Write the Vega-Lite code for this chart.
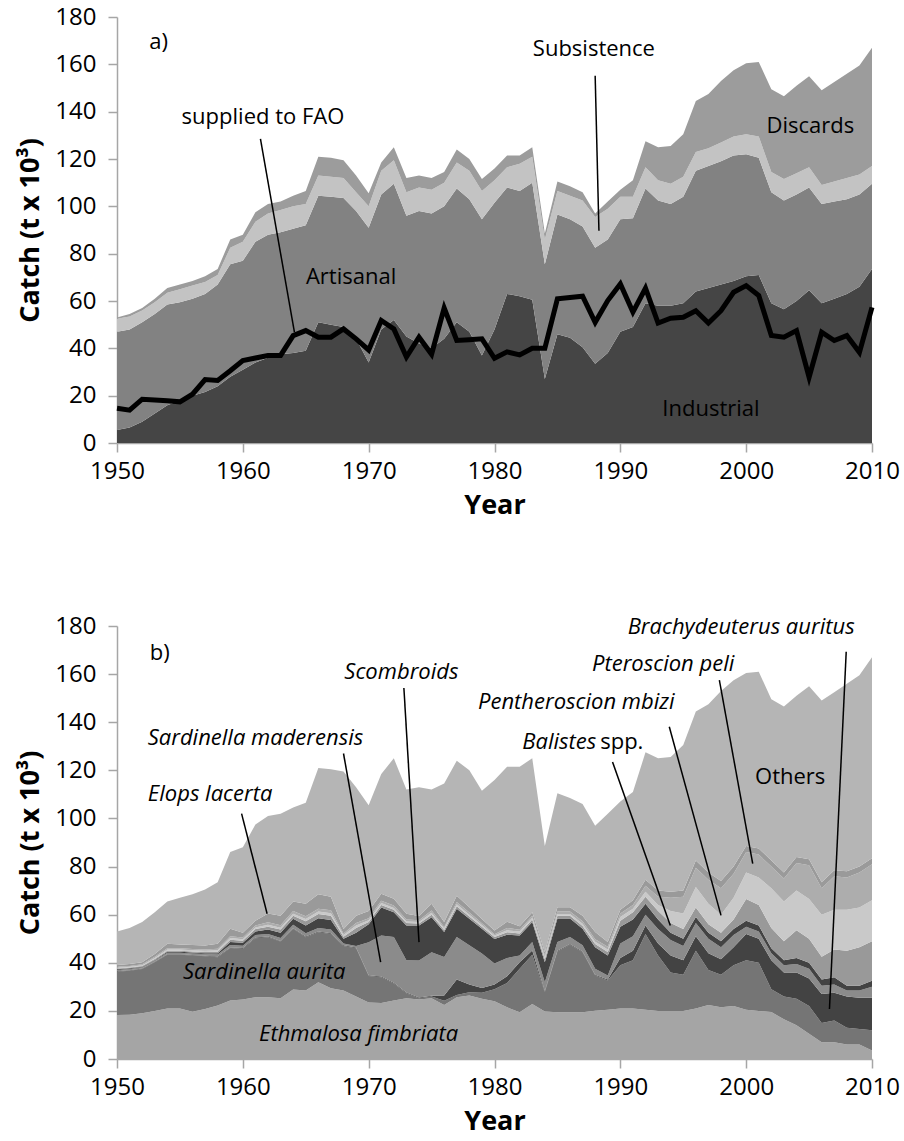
{
  "$schema": "https://vega.github.io/schema/vega-lite/v6.json",
  "padding": {"left": 16, "top": 5, "right": 10, "bottom": 4},
  "spacing": 96,
  "resolve": {"scale": {"color": "independent"}},
  "config": {
    "font": "Open Sans",
    "view": {"stroke": null},
    "axis": {"grid": false, "labelFont": "Open Sans", "titleFont": "Open Sans", "labelFontSize": 24, "titleFontSize": 27, "titleFontWeight": "bold", "labelColor": "#000", "titleColor": "#000", "domainColor": "#a6a6a6", "tickColor": "#a6a6a6", "domainWidth": 1.5, "tickWidth": 1.5, "tickSize": 9, "labelFlush": false, "labelOverlap": false},
    "axisX": {"labelPadding": 7, "titlePadding": 9},
    "axisY": {"labelPadding": 12, "titlePadding": 10},
    "text": {"font": "Open Sans", "fontSize": 22, "baseline": "middle"}
  },
  "datasets": {
    "rankA": [
      {"sector":"Industrial","rank":1},
      {"sector":"Artisanal","rank":2},
      {"sector":"Subsistence","rank":3},
      {"sector":"Discards","rank":4}
    ],
    "rankB": [
      {"species":"ethmalosa","rank":1},
      {"species":"s_aurita","rank":2},
      {"species":"brachydeuterus","rank":3},
      {"species":"s_maderensis","rank":4},
      {"species":"scombroids","rank":5},
      {"species":"balistes","rank":6},
      {"species":"pentheroscion","rank":7},
      {"species":"pteroscion","rank":8},
      {"species":"elops","rank":9},
      {"species":"others","rank":10}
    ],
    "a": [
      {"year":1950,"Industrial":5.5,"Artisanal":41.5,"Subsistence":5.5,"Discards":0.5,"FAO":14.7},
      {"year":1951,"Industrial":6.5,"Artisanal":41.5,"Subsistence":5.5,"Discards":1,"FAO":13.9},
      {"year":1952,"Industrial":9,"Artisanal":42,"Subsistence":5,"Discards":1,"FAO":18.5},
      {"year":1953,"Industrial":12.5,"Artisanal":42,"Subsistence":5,"Discards":1.5,"FAO":18.2},
      {"year":1954,"Industrial":16,"Artisanal":42.5,"Subsistence":5,"Discards":2,"FAO":17.9},
      {"year":1955,"Industrial":18,"Artisanal":41.5,"Subsistence":5.5,"Discards":2,"FAO":17.4},
      {"year":1956,"Industrial":20,"Artisanal":41,"Subsistence":5.5,"Discards":2,"FAO":20.6},
      {"year":1957,"Industrial":21.5,"Artisanal":41.5,"Subsistence":5,"Discards":2.5,"FAO":26.8},
      {"year":1958,"Industrial":24,"Artisanal":43,"Subsistence":4,"Discards":2.5,"FAO":26.4},
      {"year":1959,"Industrial":28,"Artisanal":47.5,"Subsistence":7,"Discards":3.5,"FAO":30.5},
      {"year":1960,"Industrial":31,"Artisanal":46,"Subsistence":8,"Discards":3,"FAO":34.8},
      {"year":1961,"Industrial":34,"Artisanal":51,"Subsistence":8.5,"Discards":4,"FAO":35.9},
      {"year":1962,"Industrial":36,"Artisanal":52,"Subsistence":9,"Discards":4,"FAO":37},
      {"year":1963,"Industrial":37.5,"Artisanal":51.5,"Subsistence":9.5,"Discards":3.5,"FAO":37},
      {"year":1964,"Industrial":38,"Artisanal":52.5,"Subsistence":9.5,"Discards":4.5,"FAO":45.4},
      {"year":1965,"Industrial":39,"Artisanal":53,"Subsistence":9,"Discards":5.5,"FAO":47.5},
      {"year":1966,"Industrial":51,"Artisanal":53.5,"Subsistence":8.5,"Discards":8,"FAO":44.7},
      {"year":1967,"Industrial":50,"Artisanal":54,"Subsistence":8.5,"Discards":8,"FAO":44.7},
      {"year":1968,"Industrial":49,"Artisanal":54.5,"Subsistence":8.5,"Discards":7.5,"FAO":48.2},
      {"year":1969,"Industrial":44,"Artisanal":54,"Subsistence":8,"Discards":7,"FAO":44},
      {"year":1970,"Industrial":34,"Artisanal":57,"Subsistence":9,"Discards":5.5,"FAO":39.3},
      {"year":1971,"Industrial":48,"Artisanal":57,"Subsistence":10,"Discards":3.5,"FAO":51.8},
      {"year":1972,"Industrial":52,"Artisanal":57.5,"Subsistence":10,"Discards":5.5,"FAO":48.2},
      {"year":1973,"Industrial":45,"Artisanal":51,"Subsistence":10,"Discards":6,"FAO":36.3},
      {"year":1974,"Industrial":42,"Artisanal":56,"Subsistence":10,"Discards":5,"FAO":44.7},
      {"year":1975,"Industrial":40,"Artisanal":57,"Subsistence":10,"Discards":5,"FAO":37.5},
      {"year":1976,"Industrial":44,"Artisanal":56,"Subsistence":10,"Discards":4.5,"FAO":57},
      {"year":1977,"Industrial":51,"Artisanal":56.5,"Subsistence":11,"Discards":5.5,"FAO":43.3},
      {"year":1978,"Industrial":47,"Artisanal":56,"Subsistence":12,"Discards":5,"FAO":43.6},
      {"year":1979,"Industrial":37,"Artisanal":57.5,"Subsistence":12,"Discards":5,"FAO":44},
      {"year":1980,"Industrial":48,"Artisanal":53.5,"Subsistence":9.5,"Discards":5,"FAO":35.8},
      {"year":1981,"Industrial":63,"Artisanal":45,"Subsistence":8.5,"Discards":5,"FAO":38.5},
      {"year":1982,"Industrial":62,"Artisanal":44.5,"Subsistence":11.5,"Discards":3.5,"FAO":37.2},
      {"year":1983,"Industrial":60.5,"Artisanal":49.5,"Subsistence":11,"Discards":4,"FAO":40},
      {"year":1984,"Industrial":27,"Artisanal":48.5,"Subsistence":10.5,"Discards":2.5,"FAO":40},
      {"year":1985,"Industrial":46,"Artisanal":50.5,"Subsistence":10,"Discards":4,"FAO":60.9},
      {"year":1986,"Industrial":44.5,"Artisanal":50,"Subsistence":10,"Discards":4,"FAO":61.5},
      {"year":1987,"Industrial":40.5,"Artisanal":51,"Subsistence":11,"Discards":3.5,"FAO":62},
      {"year":1988,"Industrial":33.5,"Artisanal":49,"Subsistence":13,"Discards":1.5,"FAO":51},
      {"year":1989,"Industrial":38,"Artisanal":48,"Subsistence":13,"Discards":3,"FAO":60.2},
      {"year":1990,"Industrial":47,"Artisanal":47.5,"Subsistence":9.5,"Discards":3,"FAO":67.2},
      {"year":1991,"Industrial":49,"Artisanal":46,"Subsistence":9,"Discards":7,"FAO":55.3},
      {"year":1992,"Industrial":59,"Artisanal":48.5,"Subsistence":9,"Discards":11,"FAO":65.4},
      {"year":1993,"Industrial":58,"Artisanal":44.5,"Subsistence":8.5,"Discards":14,"FAO":50.7},
      {"year":1994,"Industrial":58,"Artisanal":43,"Subsistence":8.5,"Discards":16,"FAO":52.7},
      {"year":1995,"Industrial":59,"Artisanal":45,"Subsistence":8.5,"Discards":18,"FAO":53.1},
      {"year":1996,"Industrial":64,"Artisanal":51,"Subsistence":8,"Discards":21.5,"FAO":55.9},
      {"year":1997,"Industrial":65.5,"Artisanal":51.5,"Subsistence":7.5,"Discards":23,"FAO":50.7},
      {"year":1998,"Industrial":67,"Artisanal":52,"Subsistence":8,"Discards":26,"FAO":55.9},
      {"year":1999,"Industrial":68.5,"Artisanal":53,"Subsistence":8,"Discards":28,"FAO":63.7},
      {"year":2000,"Industrial":70.5,"Artisanal":51.5,"Subsistence":8.5,"Discards":30,"FAO":66.5},
      {"year":2001,"Industrial":71,"Artisanal":49.5,"Subsistence":9,"Discards":31.5,"FAO":62.3},
      {"year":2002,"Industrial":59,"Artisanal":47,"Subsistence":8.5,"Discards":35,"FAO":45.4},
      {"year":2003,"Industrial":56.5,"Artisanal":46,"Subsistence":9,"Discards":35,"FAO":44.7},
      {"year":2004,"Industrial":60,"Artisanal":45,"Subsistence":9,"Discards":37,"FAO":47.5},
      {"year":2005,"Industrial":64.5,"Artisanal":43.5,"Subsistence":8.5,"Discards":38.5,"FAO":27.8},
      {"year":2006,"Industrial":59,"Artisanal":42,"Subsistence":8,"Discards":40,"FAO":46.8},
      {"year":2007,"Industrial":61,"Artisanal":41,"Subsistence":8.5,"Discards":42,"FAO":43.3},
      {"year":2008,"Industrial":63,"Artisanal":40,"Subsistence":9,"Discards":44,"FAO":45.4},
      {"year":2009,"Industrial":66,"Artisanal":39,"Subsistence":8.5,"Discards":46,"FAO":38.3},
      {"year":2010,"Industrial":73.5,"Artisanal":36,"Subsistence":7.5,"Discards":50,"FAO":57.3}
    ],
    "b": [
      {"year":1950,"ethmalosa":18.3,"s_aurita":18,"brachydeuterus":0.2,"s_maderensis":0.5,"scombroids":0.3,"balistes":0.3,"pentheroscion":0.3,"pteroscion":0.4,"elops":0.8,"others":13.9},
      {"year":1951,"ethmalosa":18.4,"s_aurita":18.3,"brachydeuterus":0.2,"s_maderensis":0.5,"scombroids":0.3,"balistes":0.3,"pentheroscion":0.3,"pteroscion":0.4,"elops":0.8,"others":15},
      {"year":1952,"ethmalosa":19,"s_aurita":18.4,"brachydeuterus":0.2,"s_maderensis":0.5,"scombroids":0.3,"balistes":0.3,"pentheroscion":0.3,"pteroscion":0.4,"elops":0.8,"others":16.8},
      {"year":1953,"ethmalosa":20,"s_aurita":20.2,"brachydeuterus":0.2,"s_maderensis":0.5,"scombroids":0.3,"balistes":0.4,"pentheroscion":0.4,"pteroscion":0.5,"elops":1.2,"others":17.3},
      {"year":1954,"ethmalosa":21,"s_aurita":22.3,"brachydeuterus":0.2,"s_maderensis":0.7,"scombroids":0.4,"balistes":0.4,"pentheroscion":0.5,"pteroscion":0.5,"elops":1.9,"others":17.6},
      {"year":1955,"ethmalosa":21,"s_aurita":22.3,"brachydeuterus":0.2,"s_maderensis":0.7,"scombroids":0.4,"balistes":0.4,"pentheroscion":0.5,"pteroscion":0.5,"elops":1.6,"others":19.4},
      {"year":1956,"ethmalosa":19.6,"s_aurita":23.4,"brachydeuterus":0.2,"s_maderensis":0.7,"scombroids":0.4,"balistes":0.4,"pentheroscion":0.5,"pteroscion":0.5,"elops":1.7,"others":21.1},
      {"year":1957,"ethmalosa":20.8,"s_aurita":21.9,"brachydeuterus":0.2,"s_maderensis":0.7,"scombroids":0.4,"balistes":0.5,"pentheroscion":0.5,"pteroscion":0.5,"elops":1.7,"others":23.3},
      {"year":1958,"ethmalosa":22.2,"s_aurita":20.1,"brachydeuterus":0.3,"s_maderensis":0.8,"scombroids":0.6,"balistes":0.6,"pentheroscion":0.6,"pteroscion":0.6,"elops":2.1,"others":25.6},
      {"year":1959,"ethmalosa":24.3,"s_aurita":21.8,"brachydeuterus":0.3,"s_maderensis":1,"scombroids":1.2,"balistes":1,"pentheroscion":0.7,"pteroscion":0.7,"elops":3.1,"others":31.9},
      {"year":1960,"ethmalosa":24.7,"s_aurita":21.1,"brachydeuterus":0.3,"s_maderensis":1,"scombroids":1.2,"balistes":0.9,"pentheroscion":0.6,"pteroscion":0.7,"elops":2,"others":35.5},
      {"year":1961,"ethmalosa":25.7,"s_aurita":24.5,"brachydeuterus":0.3,"s_maderensis":1,"scombroids":1.5,"balistes":1,"pentheroscion":0.7,"pteroscion":0.8,"elops":2,"others":40},
      {"year":1962,"ethmalosa":25.7,"s_aurita":24.9,"brachydeuterus":0.3,"s_maderensis":1.1,"scombroids":1.8,"balistes":1.2,"pentheroscion":0.8,"pteroscion":1,"elops":3.7,"others":40.5},
      {"year":1963,"ethmalosa":25.3,"s_aurita":23.5,"brachydeuterus":0.3,"s_maderensis":1.2,"scombroids":2.2,"balistes":1.3,"pentheroscion":0.8,"pteroscion":1,"elops":3.9,"others":42.5},
      {"year":1964,"ethmalosa":28.9,"s_aurita":25.2,"brachydeuterus":0.3,"s_maderensis":1.4,"scombroids":2.5,"balistes":1.3,"pentheroscion":0.8,"pteroscion":1.1,"elops":4,"others":39},
      {"year":1965,"ethmalosa":28.5,"s_aurita":22.1,"brachydeuterus":0.3,"s_maderensis":1.4,"scombroids":3.2,"balistes":1.8,"pentheroscion":0.9,"pteroscion":1.1,"elops":5.2,"others":42},
      {"year":1966,"ethmalosa":31.9,"s_aurita":20.8,"brachydeuterus":0.3,"s_maderensis":1.5,"scombroids":4,"balistes":1.8,"pentheroscion":1,"pteroscion":1.2,"elops":6,"others":52.5},
      {"year":1967,"ethmalosa":29.4,"s_aurita":22.6,"brachydeuterus":0.3,"s_maderensis":1.5,"scombroids":4,"balistes":1.8,"pentheroscion":1,"pteroscion":1.2,"elops":5.7,"others":53},
      {"year":1968,"ethmalosa":28.5,"s_aurita":18.5,"brachydeuterus":0.3,"s_maderensis":0.7,"scombroids":2,"balistes":0.8,"pentheroscion":0.7,"pteroscion":0.7,"elops":1.8,"others":65.5},
      {"year":1969,"ethmalosa":26,"s_aurita":20,"brachydeuterus":0.3,"s_maderensis":0.7,"scombroids":5.5,"balistes":2,"pentheroscion":1,"pteroscion":1,"elops":3,"others":53.5},
      {"year":1970,"ethmalosa":23.5,"s_aurita":11,"brachydeuterus":0.3,"s_maderensis":13.7,"scombroids":7.5,"balistes":1,"pentheroscion":0.7,"pteroscion":0.8,"elops":3,"others":44},
      {"year":1971,"ethmalosa":23.3,"s_aurita":10.7,"brachydeuterus":0.3,"s_maderensis":17,"scombroids":11.7,"balistes":1,"pentheroscion":0.8,"pteroscion":1,"elops":2.9,"others":49.8},
      {"year":1972,"ethmalosa":24.3,"s_aurita":7.1,"brachydeuterus":0.3,"s_maderensis":19,"scombroids":10.3,"balistes":1,"pentheroscion":0.8,"pteroscion":1,"elops":2.8,"others":58.4},
      {"year":1973,"ethmalosa":25.3,"s_aurita":2,"brachydeuterus":0.3,"s_maderensis":13.5,"scombroids":14.4,"balistes":1,"pentheroscion":0.7,"pteroscion":0.8,"elops":2.4,"others":51.6},
      {"year":1974,"ethmalosa":24.7,"s_aurita":0.6,"brachydeuterus":0.3,"s_maderensis":15.3,"scombroids":14.6,"balistes":0.8,"pentheroscion":0.7,"pteroscion":0.7,"elops":1.7,"others":53.6},
      {"year":1975,"ethmalosa":25.3,"s_aurita":0.7,"brachydeuterus":0.3,"s_maderensis":18.1,"scombroids":14.5,"balistes":1.1,"pentheroscion":0.8,"pteroscion":0.9,"elops":2.8,"others":47.5},
      {"year":1976,"ethmalosa":22.5,"s_aurita":1.7,"brachydeuterus":2.2,"s_maderensis":16,"scombroids":10.4,"balistes":0.8,"pentheroscion":0.6,"pteroscion":0.7,"elops":2,"others":57.6},
      {"year":1977,"ethmalosa":25.7,"s_aurita":0.9,"brachydeuterus":6.4,"s_maderensis":17.7,"scombroids":11.8,"balistes":1,"pentheroscion":0.8,"pteroscion":1,"elops":2.6,"others":56.1},
      {"year":1978,"ethmalosa":26.4,"s_aurita":1.4,"brachydeuterus":3.2,"s_maderensis":16.3,"scombroids":11,"balistes":0.9,"pentheroscion":0.8,"pteroscion":0.9,"elops":2.2,"others":56.9},
      {"year":1979,"ethmalosa":25,"s_aurita":2.5,"brachydeuterus":2,"s_maderensis":14.4,"scombroids":10.2,"balistes":0.9,"pentheroscion":0.7,"pteroscion":0.7,"elops":1.8,"others":53.3},
      {"year":1980,"ethmalosa":24,"s_aurita":5,"brachydeuterus":2,"s_maderensis":8.7,"scombroids":10.2,"balistes":0.8,"pentheroscion":0.6,"pteroscion":0.6,"elops":1.5,"others":62.6},
      {"year":1981,"ethmalosa":21.5,"s_aurita":10.1,"brachydeuterus":2.8,"s_maderensis":7.6,"scombroids":9.7,"balistes":1,"pentheroscion":0.8,"pteroscion":1,"elops":2.6,"others":64.4},
      {"year":1982,"ethmalosa":19.4,"s_aurita":18.1,"brachydeuterus":2.7,"s_maderensis":2.8,"scombroids":8.3,"balistes":0.9,"pentheroscion":0.8,"pteroscion":0.7,"elops":1.5,"others":66.3},
      {"year":1983,"ethmalosa":22.9,"s_aurita":20.4,"brachydeuterus":1.8,"s_maderensis":3.5,"scombroids":8.4,"balistes":1,"pentheroscion":0.7,"pteroscion":0.8,"elops":1.5,"others":64},
      {"year":1984,"ethmalosa":19.7,"s_aurita":8.1,"brachydeuterus":0.5,"s_maderensis":3.6,"scombroids":8.3,"balistes":1.3,"pentheroscion":0.8,"pteroscion":0.9,"elops":1.2,"others":44.1},
      {"year":1985,"ethmalosa":19.4,"s_aurita":25.3,"brachydeuterus":0.3,"s_maderensis":3.6,"scombroids":9.8,"balistes":1.1,"pentheroscion":0.8,"pteroscion":1,"elops":1.8,"others":47.4},
      {"year":1986,"ethmalosa":19.4,"s_aurita":28.1,"brachydeuterus":0.3,"s_maderensis":2.9,"scombroids":7.7,"balistes":1.1,"pentheroscion":0.8,"pteroscion":1,"elops":1.8,"others":45.4},
      {"year":1987,"ethmalosa":19.4,"s_aurita":25,"brachydeuterus":0.3,"s_maderensis":2.6,"scombroids":6.8,"balistes":1.2,"pentheroscion":0.9,"pteroscion":1.1,"elops":2.3,"others":46.4},
      {"year":1988,"ethmalosa":20.1,"s_aurita":14.6,"brachydeuterus":0.3,"s_maderensis":2.5,"scombroids":9,"balistes":1.3,"pentheroscion":0.9,"pteroscion":1.1,"elops":3,"others":44.2},
      {"year":1989,"ethmalosa":20.5,"s_aurita":12.1,"brachydeuterus":0.4,"s_maderensis":1.7,"scombroids":8.3,"balistes":1.5,"pentheroscion":1,"pteroscion":1.2,"elops":1.9,"others":53.4},
      {"year":1990,"ethmalosa":21,"s_aurita":18,"brachydeuterus":3,"s_maderensis":6,"scombroids":7,"balistes":2.5,"pentheroscion":1.5,"pteroscion":1.5,"elops":1.5,"others":45},
      {"year":1991,"ethmalosa":21,"s_aurita":20,"brachydeuterus":4,"s_maderensis":6,"scombroids":7,"balistes":3,"pentheroscion":1.5,"pteroscion":1.5,"elops":2,"others":45},
      {"year":1992,"ethmalosa":20.5,"s_aurita":31.5,"brachydeuterus":3.5,"s_maderensis":4.5,"scombroids":4.5,"balistes":3,"pentheroscion":2,"pteroscion":2.5,"elops":2.5,"others":53},
      {"year":1993,"ethmalosa":20,"s_aurita":23,"brachydeuterus":5,"s_maderensis":6,"scombroids":4,"balistes":3.5,"pentheroscion":2.5,"pteroscion":3.5,"elops":2.5,"others":55},
      {"year":1994,"ethmalosa":20,"s_aurita":16,"brachydeuterus":7,"s_maderensis":6.5,"scombroids":3,"balistes":4,"pentheroscion":5,"pteroscion":5.5,"elops":2.5,"others":56},
      {"year":1995,"ethmalosa":20,"s_aurita":15,"brachydeuterus":6,"s_maderensis":6,"scombroids":3,"balistes":4,"pentheroscion":6.5,"pteroscion":7,"elops":2.5,"others":60.5},
      {"year":1996,"ethmalosa":21,"s_aurita":24,"brachydeuterus":6,"s_maderensis":5.5,"scombroids":2.5,"balistes":4,"pentheroscion":8.5,"pteroscion":8,"elops":3,"others":62},
      {"year":1997,"ethmalosa":22.5,"s_aurita":14.5,"brachydeuterus":7,"s_maderensis":6,"scombroids":2.5,"balistes":3.5,"pentheroscion":8.5,"pteroscion":10,"elops":3,"others":70},
      {"year":1998,"ethmalosa":21.5,"s_aurita":13.5,"brachydeuterus":6.5,"s_maderensis":5,"scombroids":2.5,"balistes":3.5,"pentheroscion":7.5,"pteroscion":11,"elops":3,"others":79},
      {"year":1999,"ethmalosa":22,"s_aurita":17,"brachydeuterus":7.5,"s_maderensis":5,"scombroids":2.5,"balistes":4,"pentheroscion":9,"pteroscion":10,"elops":3,"others":77.5},
      {"year":2000,"ethmalosa":20.5,"s_aurita":20.5,"brachydeuterus":11,"s_maderensis":3,"scombroids":2.5,"balistes":9,"pentheroscion":11,"pteroscion":8.5,"elops":2.5,"others":72},
      {"year":2001,"ethmalosa":20,"s_aurita":20,"brachydeuterus":10,"s_maderensis":3,"scombroids":2.5,"balistes":8.5,"pentheroscion":11.5,"pteroscion":9.5,"elops":2.5,"others":73.5},
      {"year":2002,"ethmalosa":19.5,"s_aurita":9.5,"brachydeuterus":12,"s_maderensis":3,"scombroids":2,"balistes":8.5,"pentheroscion":16.5,"pteroscion":9,"elops":2.5,"others":67},
      {"year":2003,"ethmalosa":16.5,"s_aurita":9.5,"brachydeuterus":10,"s_maderensis":3,"scombroids":2,"balistes":8,"pentheroscion":16.5,"pteroscion":9.5,"elops":2.5,"others":69},
      {"year":2004,"ethmalosa":14,"s_aurita":11,"brachydeuterus":11,"s_maderensis":3.5,"scombroids":2.5,"balistes":11.5,"pentheroscion":16.5,"pteroscion":11.5,"elops":2.5,"others":67},
      {"year":2005,"ethmalosa":10.5,"s_aurita":11.5,"brachydeuterus":11.5,"s_maderensis":4,"scombroids":2.5,"balistes":10,"pentheroscion":16.5,"pteroscion":14,"elops":2.5,"others":72},
      {"year":2006,"ethmalosa":7,"s_aurita":8,"brachydeuterus":12,"s_maderensis":3.5,"scombroids":2.5,"balistes":9.5,"pentheroscion":17.5,"pteroscion":11,"elops":2.5,"others":75.5},
      {"year":2007,"ethmalosa":7,"s_aurita":9,"brachydeuterus":11.5,"s_maderensis":3.5,"scombroids":3,"balistes":11.5,"pentheroscion":16.5,"pteroscion":14,"elops":2.5,"others":74},
      {"year":2008,"ethmalosa":6,"s_aurita":7,"brachydeuterus":13,"s_maderensis":2.5,"scombroids":2,"balistes":14.5,"pentheroscion":17,"pteroscion":13.5,"elops":2.5,"others":78},
      {"year":2009,"ethmalosa":6,"s_aurita":6.5,"brachydeuterus":13,"s_maderensis":3,"scombroids":2,"balistes":16,"pentheroscion":16.5,"pteroscion":14.5,"elops":2.5,"others":79.5},
      {"year":2010,"ethmalosa":3.5,"s_aurita":8.5,"brachydeuterus":13.5,"s_maderensis":4.5,"scombroids":2.5,"balistes":16.5,"pentheroscion":17,"pteroscion":15,"elops":2.5,"others":83.5}
    ],
    "labelsA": [
      {"x":1953.3,"y":169.5,"text":"a)"},
      {"x":1961.6,"y":137.8,"text":"supplied to FAO"},
      {"x":1968.6,"y":70.2,"text":"Artisanal"},
      {"x":1987.9,"y":166.5,"text":"Subsistence"},
      {"x":2005.1,"y":134.1,"text":"Discards"},
      {"x":1997.2,"y":14.4,"text":"Industrial"}
    ],
    "pointersA": [
      {"x":1961.4,"y":128.5,"x2":1964.1,"y2":46.8},
      {"x":1988.0,"y":155.2,"x2":1988.3,"y2":89.7}
    ],
    "labelsB": [
      {"x":1953.4,"y":168.6,"text":"b)"},
      {"x":2003.5,"y":117.3,"text":"Others"}
    ],
    "labelsBi": [
      {"x":1972.6,"y":160.7,"text":"Scombroids"},
      {"x":1961.0,"y":133.5,"text":"Sardinella maderensis"},
      {"x":1957.4,"y":110.3,"text":"Elops lacerta"},
      {"x":1961.7,"y":36.1,"text":"Sardinella aurita"},
      {"x":1969.2,"y":10.4,"text":"Ethmalosa fimbriata"},
      {"x":1999.6,"y":179.7,"text":"Brachydeuterus auritus"},
      {"x":1993.4,"y":164.4,"text":"Pteroscion peli"},
      {"x":1986.5,"y":148.5,"text":"Pentheroscion mbizi"}
    ],
    "labelsBalistes": [
      {"x":1988.08,"y":131.9,"text":"Balistes"}
    ],
    "labelsSpp": [
      {"x":1988.4,"y":131.9,"text":"spp."}
    ],
    "pointersB": [
      {"x":1972.8,"y":154.2,"x2":1974.0,"y2":48.6},
      {"x":1968.0,"y":127.0,"x2":1970.95,"y2":40.3},
      {"x":1959.9,"y":102.0,"x2":1961.93,"y2":60.4},
      {"x":2007.95,"y":169.3,"x2":2006.62,"y2":20.8},
      {"x":1997.87,"y":157.5,"x2":2000.52,"y2":81.2},
      {"x":1993.89,"y":138.1,"x2":1998.0,"y2":59.7},
      {"x":1989.38,"y":123.5,"x2":1993.97,"y2":55.5}
    ]
  },
  "vconcat": [
    {
      "width": 755,
      "height": 426,
      "layer": [
        {
          "data": {"name": "a"},
          "transform": [
            {"fold": ["Industrial", "Artisanal", "Subsistence", "Discards"], "as": ["sector", "catch"]},
            {"lookup": "sector", "from": {"data": {"name": "rankA"}, "key": "sector", "fields": ["rank"]}}
          ],
          "mark": {"type": "area", "interpolate": "linear"},
          "encoding": {
            "x": {"field": "year", "type": "quantitative", "scale": {"domain": [1950, 2010], "nice": false, "zero": false}, "axis": {"title": "Year", "values": [1950, 1960, 1970, 1980, 1990, 2000, 2010], "format": "d"}},
            "y": {"field": "catch", "type": "quantitative", "stack": "zero", "scale": {"domain": [0, 180], "nice": false}, "axis": {"title": "Catch (t x 10³)", "values": [0, 20, 40, 60, 80, 100, 120, 140, 160, 180]}},
            "color": {"field": "sector", "type": "nominal", "scale": {"domain": ["Industrial", "Artisanal", "Subsistence", "Discards"], "range": ["#454545", "#828282", "#c3c3c3", "#9c9c9c"]}, "legend": null},
            "order": {"field": "rank", "type": "quantitative", "sort": "ascending"}
          }
        },
        {
          "data": {"name": "a"},
          "mark": {"type": "line", "color": "#000000", "strokeWidth": 5, "strokeJoin": "miter"},
          "encoding": {
            "x": {"field": "year", "type": "quantitative"},
            "y": {"field": "FAO", "type": "quantitative"}
          }
        },
        {
          "data": {"name": "pointersA"},
          "mark": {"type": "rule", "color": "#000000", "strokeWidth": 1.5},
          "encoding": {
            "x": {"field": "x", "type": "quantitative"},
            "y": {"field": "y", "type": "quantitative"},
            "x2": {"field": "x2"},
            "y2": {"field": "y2"}
          }
        },
        {
          "data": {"name": "labelsA"},
          "mark": {"type": "text", "align": "center", "color": "#000000"},
          "encoding": {
            "x": {"field": "x", "type": "quantitative"},
            "y": {"field": "y", "type": "quantitative"},
            "text": {"field": "text"}
          }
        }
      ]
    },
    {
      "width": 755,
      "height": 433,
      "layer": [
        {
          "data": {"name": "b"},
          "transform": [
            {"fold": ["ethmalosa", "s_aurita", "brachydeuterus", "s_maderensis", "scombroids", "balistes", "pentheroscion", "pteroscion", "elops", "others"], "as": ["species", "catch"]},
            {"lookup": "species", "from": {"data": {"name": "rankB"}, "key": "species", "fields": ["rank"]}}
          ],
          "mark": {"type": "area", "interpolate": "linear"},
          "encoding": {
            "x": {"field": "year", "type": "quantitative", "scale": {"domain": [1950, 2010], "nice": false, "zero": false}, "axis": {"title": "Year", "values": [1950, 1960, 1970, 1980, 1990, 2000, 2010], "format": "d"}},
            "y": {"field": "catch", "type": "quantitative", "stack": "zero", "scale": {"domain": [0, 180], "nice": false}, "axis": {"title": "Catch (t x 10³)", "values": [0, 20, 40, 60, 80, 100, 120, 140, 160, 180]}},
            "color": {"field": "species", "type": "nominal", "scale": {"domain": ["ethmalosa", "s_aurita", "brachydeuterus", "s_maderensis", "scombroids", "balistes", "pentheroscion", "pteroscion", "elops", "others"], "range": ["#a5a5a5", "#757575", "#434343", "#8b8b8b", "#434343", "#999999", "#c9c9c9", "#adadad", "#9a9a9a", "#b5b5b5"]}, "legend": null},
            "order": {"field": "rank", "type": "quantitative", "sort": "ascending"}
          }
        },
        {
          "data": {"name": "pointersB"},
          "mark": {"type": "rule", "color": "#000000", "strokeWidth": 1.5},
          "encoding": {
            "x": {"field": "x", "type": "quantitative"},
            "y": {"field": "y", "type": "quantitative"},
            "x2": {"field": "x2"},
            "y2": {"field": "y2"}
          }
        },
        {
          "data": {"name": "labelsB"},
          "mark": {"type": "text", "align": "center", "color": "#000000"},
          "encoding": {
            "x": {"field": "x", "type": "quantitative"},
            "y": {"field": "y", "type": "quantitative"},
            "text": {"field": "text"}
          }
        },
        {
          "data": {"name": "labelsBi"},
          "mark": {"type": "text", "align": "center", "fontStyle": "italic", "color": "#000000"},
          "encoding": {
            "x": {"field": "x", "type": "quantitative"},
            "y": {"field": "y", "type": "quantitative"},
            "text": {"field": "text"}
          }
        },
        {
          "data": {"name": "labelsBalistes"},
          "mark": {"type": "text", "align": "right", "fontStyle": "italic", "color": "#000000"},
          "encoding": {
            "x": {"field": "x", "type": "quantitative"},
            "y": {"field": "y", "type": "quantitative"},
            "text": {"field": "text"}
          }
        },
        {
          "data": {"name": "labelsSpp"},
          "mark": {"type": "text", "align": "left", "color": "#000000"},
          "encoding": {
            "x": {"field": "x", "type": "quantitative"},
            "y": {"field": "y", "type": "quantitative"},
            "text": {"field": "text"}
          }
        }
      ]
    }
  ]
}
